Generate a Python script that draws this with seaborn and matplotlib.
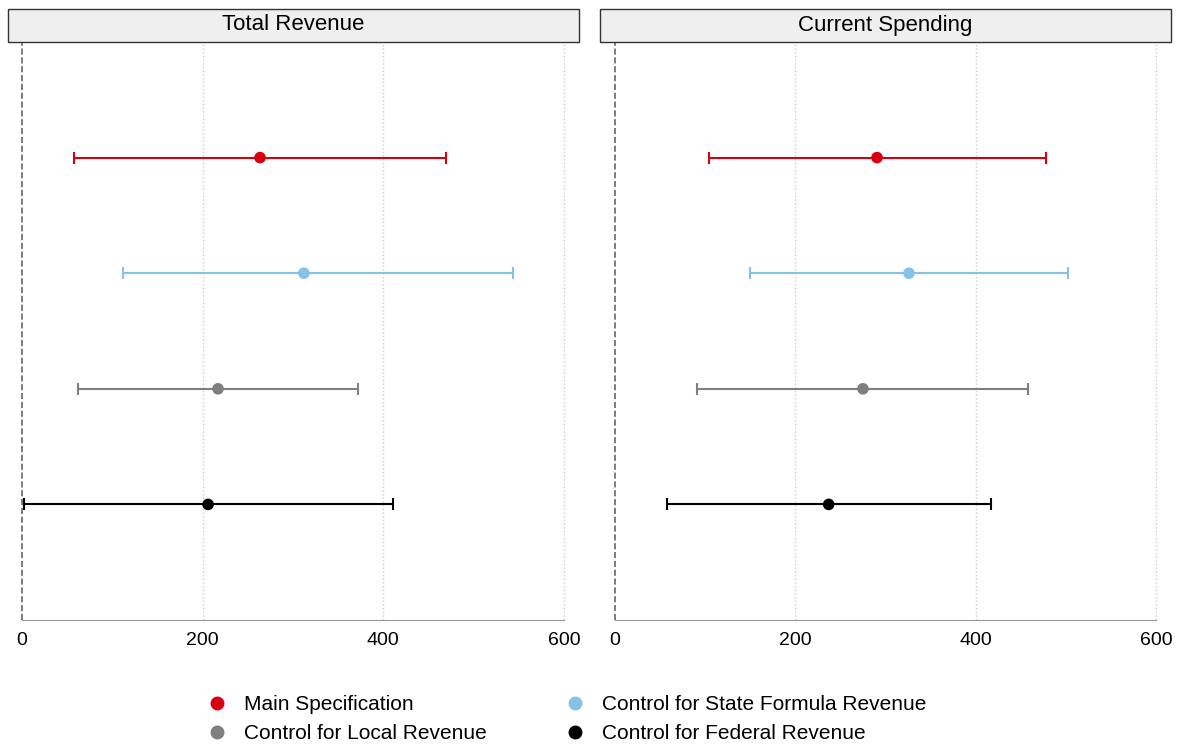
import matplotlib
matplotlib.use("Agg")
import matplotlib.pyplot as plt
import seaborn as sns
from matplotlib.patches import Rectangle
from matplotlib.lines import Line2D

sns.set_style("white")
plt.rcParams['font.family'] = ['Liberation Sans', 'DejaVu Sans']
plt.rcParams['text.color'] = 'black'
plt.rcParams['xtick.color'] = 'black'

panels = ["Total Revenue", "Current Spending"]
specs = ["Main Specification", "Control for State Formula Revenue",
         "Control for Local Revenue", "Control for Federal Revenue"]
colors = ["#d7000f", "#86c1ea", "#7f7f7f", "#000000"]
est_total = [263.5, 312, 217, 206]
lo_total = [57.6, 111.8, 62, 2.2]
hi_total = [469.4, 543.6, 372, 410.7]
est_spend = [290.6, 326, 275, 237]
lo_spend = [104, 150, 91, 58]
hi_spend = [478, 502, 458, 417]
xticks = [0, 200, 400, 600]

W, H = 1179, 753
fig = plt.figure(figsize=(W/100, H/100), dpi=100)
boxes = [(8, 579), (600, 1171)]
data = [(est_total, lo_total, hi_total), (est_spend, lo_spend, hi_spend)]
zero_px = [22, 615]
scale = [542/600, 541/600]
top, bot = 42, 620
for i, (l, r) in enumerate(boxes):
    ax = fig.add_axes([l/W, 1-bot/H, (r-l)/W, (bot-top)/H])
    x0 = -(zero_px[i]-l)/scale[i]
    x1 = x0 + (r-l)/scale[i]
    est, lo, hi = data[i]
    for k in range(4):
        ax.errorbar([est[k]], [k], xerr=[[est[k]-lo[k]], [hi[k]-est[k]]],
                    fmt='none', ecolor=colors[k], elinewidth=1.5, capsize=4, capthick=1.5)
    sns.scatterplot(x=est, y=list(range(4)), hue=specs, palette=colors, s=70,
                    edgecolor='none', ax=ax, legend=False, zorder=5)
    ax.set_xlim(x0, x1)
    ax.set_ylim(4, -1)
    ax.set_yticks([])
    ax.set_xticks(xticks)
    ax.tick_params(axis='x', length=5, color='#999999', labelsize=14, labelcolor='black')
    for t in xticks[1:]:
        ax.axvline(t, color='#cccccc', ls=':', lw=1, zorder=0)
    ax.axvline(0, color='#666666', ls='--', lw=1.2, zorder=1)
    for s in ['top', 'right', 'left']:
        ax.spines[s].set_visible(False)
    ax.spines['bottom'].set_color('#999999')
    ax.spines['bottom'].set_bounds(0, 600)
    ax.set_xlabel(''); ax.set_ylabel('')
    fig.patches.append(Rectangle((l/W, 1-top/H), (r-l)/W, 33/H, transform=fig.transFigure,
                                 facecolor='#efefef', edgecolor='#333333', lw=1))
    fig.text((l+r)/2/W, 1-(top-17)/H, panels[i], ha='center', va='center', fontsize=16,
             color='black')

order = [0, 2, 1, 3]
handles = [Line2D([], [], marker='o', ls='none', color=colors[k], markersize=9) for k in order]
labels = [specs[k] for k in order]
fig.legend(handles, labels, loc='lower center', bbox_to_anchor=(0.476, -0.012), ncol=2,
           frameon=False, fontsize=15, handletextpad=0.3, columnspacing=3.2, labelspacing=0.5)
fig.savefig("out.png", dpi=100)
